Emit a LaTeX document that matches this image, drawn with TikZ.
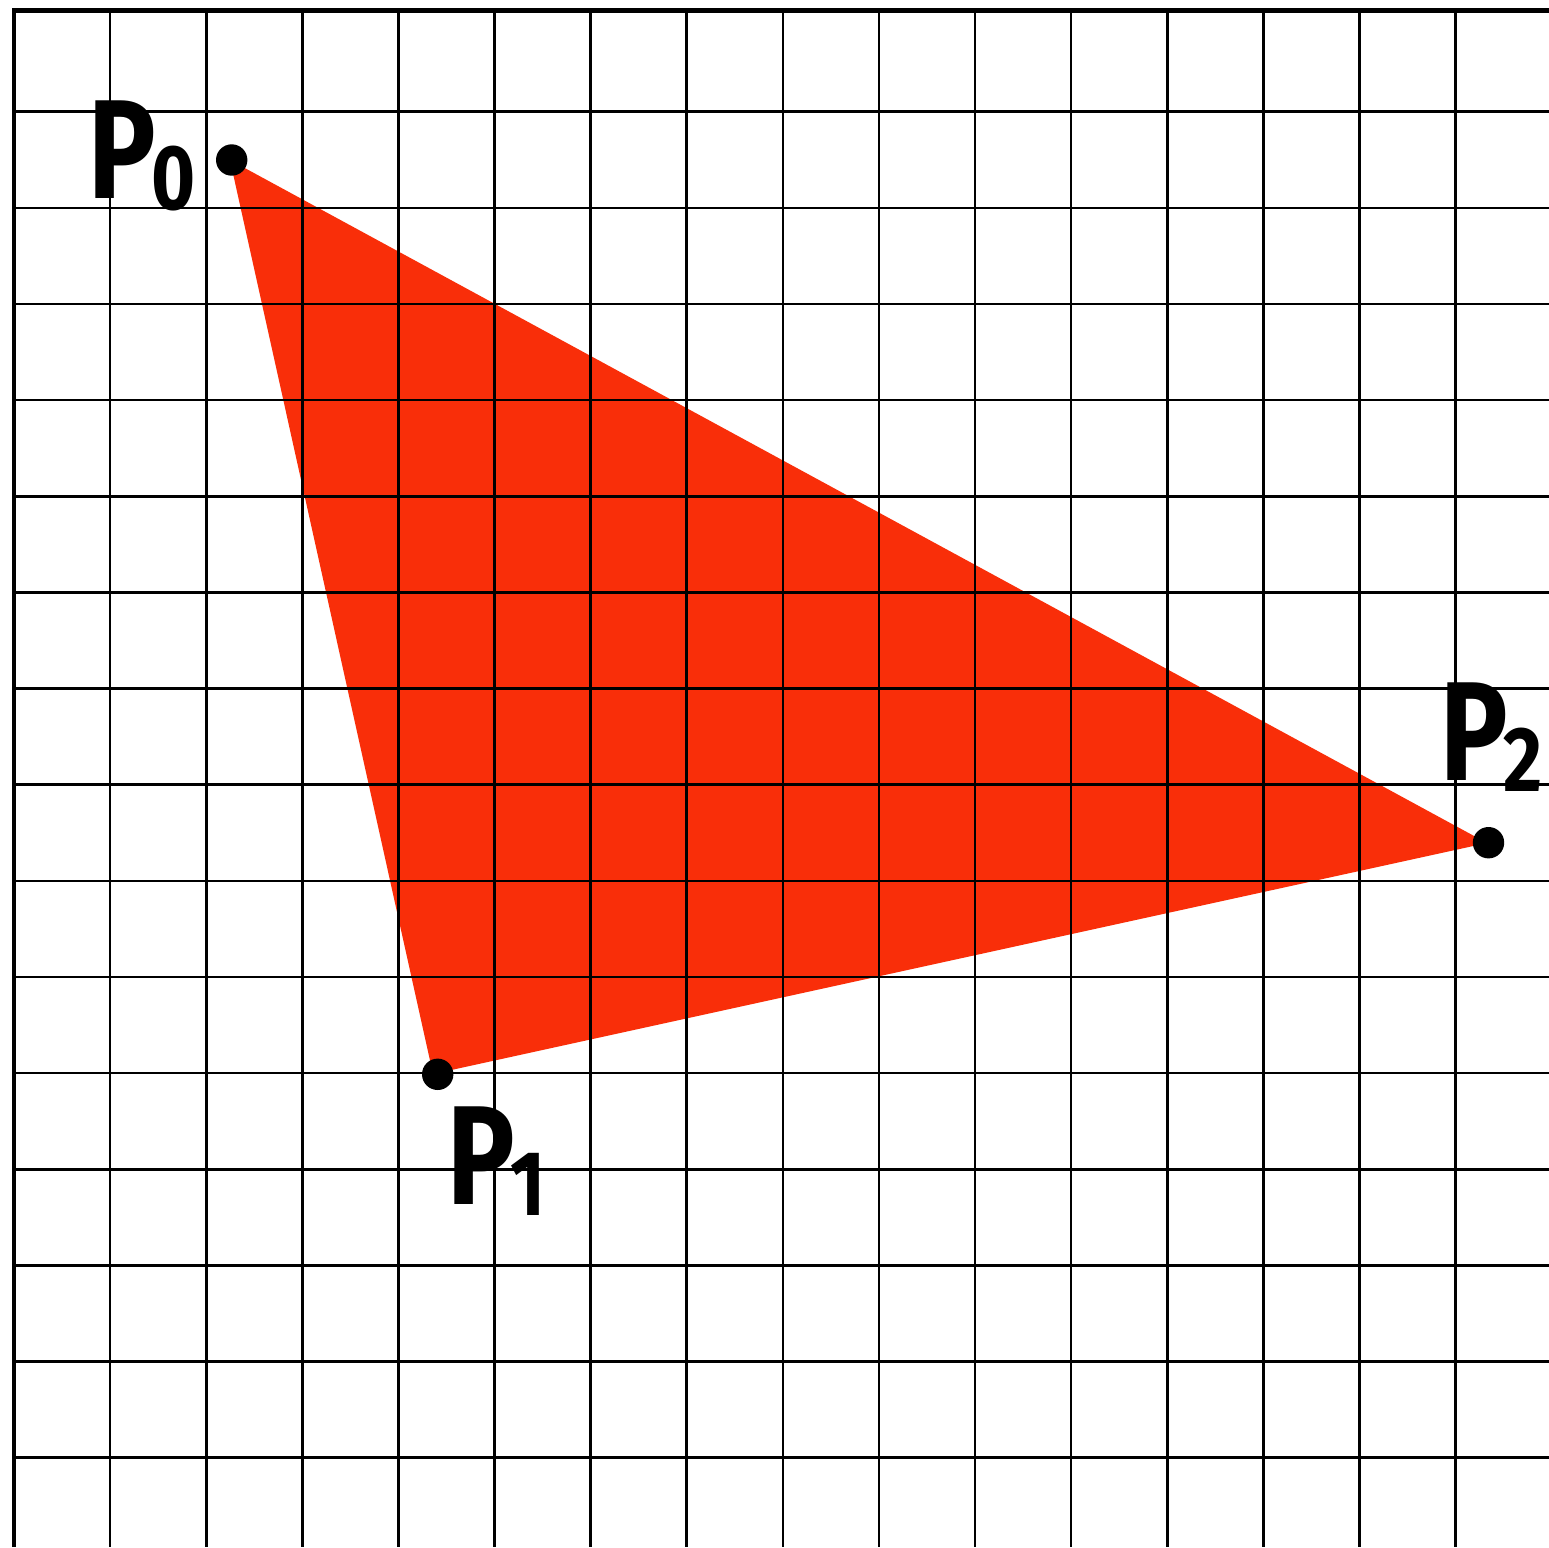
\documentclass[tikz,border=0pt]{standalone}
\usepackage{fontspec}
\setmainfont{Fira Sans}
\definecolor{trired}{RGB}{249,46,9}
\newcommand{\Pfont}{\fontsize{141}{141}\selectfont\bfseries}
\newcommand{\subf}{\fontsize{92}{92}\selectfont\bfseries}
\newcommand{\lab}[1]{\scalebox{0.8}[1]{\Pfont P}\kern-4.5pt\raisebox{-11.5pt}{\scalebox{0.82}[1]{\subf #1}}}
\begin{document}
\begin{tikzpicture}[x=1pt,y=-1pt,
  gridline/.style={line width=2.6pt,black},
  border/.style={line width=4.8pt,black},
  dot/.style={circle,fill=black,inner sep=0pt,minimum size=31.4pt},
  lbl/.style={inner sep=0pt,anchor=base west,text=black}]
\useasboundingbox (0,0) rectangle (1549,1547);
\fill[white] (0,0) rectangle (1549,1547);
% triangle vertices
\coordinate (t0) at (230,160);
\coordinate (t1) at (433,1074);
\coordinate (t2) at (1487,843);
\fill[trired] (t0) -- (t1) -- (t2) -- cycle;
% grid
\foreach \i in {1,...,15}
  \draw[gridline] ({14+96.1*\i},10.8) -- ({14+96.1*\i},1547);
\foreach \j in {0,...,14}
  \draw[gridline] (14,{111.7+96.14*\j}) -- (1549,{111.7+96.14*\j});
\draw[border] (14,1547) -- (14,10.8) -- (1549,10.8);
% points
\node[dot] (p0) at (231.7,160) {};
\node[dot] (p1) at (437.7,1074.3) {};
\node[dot] (p2) at (1488.5,842.7) {};
% labels
\node[lbl] (l0) at (88.5,198.3) {\lab{0}};
\node[lbl] (l1) at (447.5,1204) {\lab{1}};
\node[lbl] (l2) at (1440.5,780) {\lab{2}};
\end{tikzpicture}
\end{document}
